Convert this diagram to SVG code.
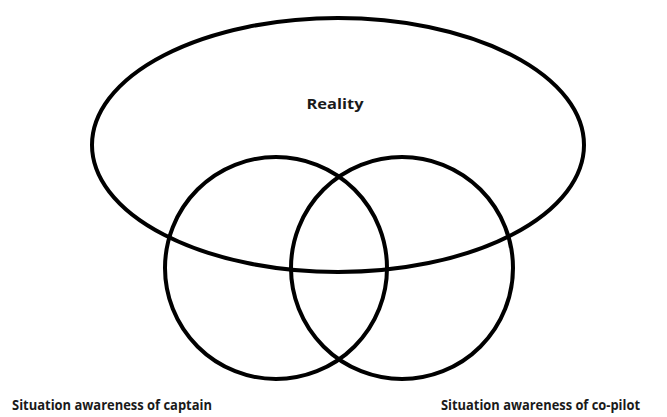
<svg xmlns="http://www.w3.org/2000/svg" width="667" height="417" viewBox="0 0 667 417">
  <style>
    .shape { fill: none; stroke: #000; stroke-width: 4; }
    .lbl { font-family: "Open Sans", "Liberation Sans", sans-serif; font-weight: bold; fill: #1a1a1a; }
  </style>
  <rect width="667" height="417" fill="#fff"/>
  <g id="reality">
    <ellipse class="shape" cx="338" cy="145" rx="246" ry="127"/>
    <text class="lbl" x="335" y="109" font-size="15" text-anchor="middle" textLength="57" lengthAdjust="spacingAndGlyphs">Reality</text>
  </g>
  <g id="captain">
    <circle class="shape" cx="276" cy="268" r="111"/>
    <text class="lbl" x="12" y="410" font-size="14.5" textLength="200" lengthAdjust="spacingAndGlyphs">Situation awareness of captain</text>
  </g>
  <g id="copilot">
    <circle class="shape" cx="402" cy="268" r="111"/>
    <text class="lbl" x="441" y="410" font-size="14.5" textLength="199" lengthAdjust="spacingAndGlyphs">Situation awareness of co-pilot</text>
  </g>
  <g id="connectors"/>
</svg>
